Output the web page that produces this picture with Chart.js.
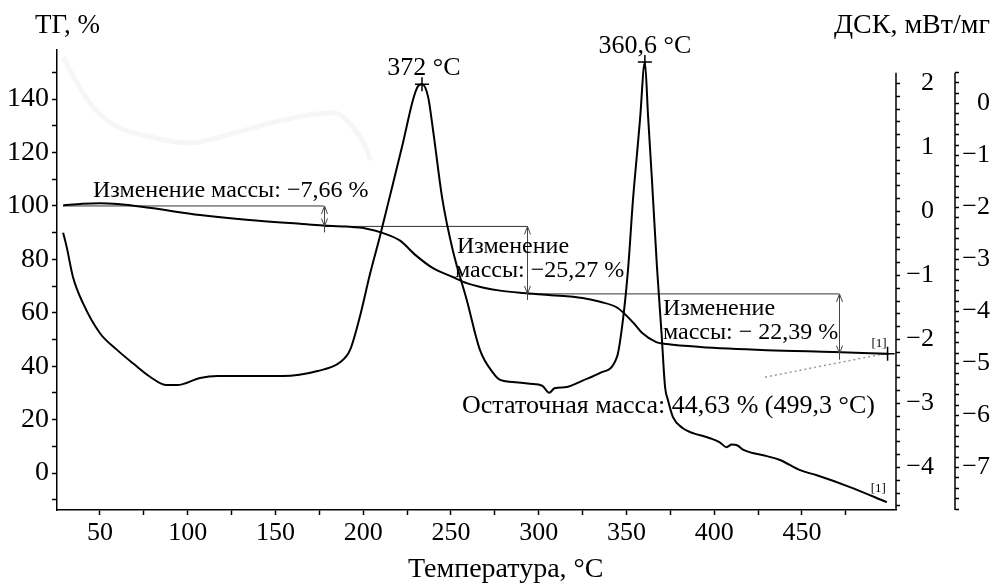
<!DOCTYPE html>
<html>
<head>
<meta charset="utf-8">
<script src="https://cdn.jsdelivr.net/npm/chart.js@4.4.0/dist/chart.umd.min.js"></script>
<style>
    html, body { margin: 0; padding: 0; background: #fff; }
</style>
</head>
<body>
<canvas id="tgChart" width="994" height="585"></canvas>
<script>
// ТГ, % (левая ось)
const tempTg = [29, 40, 50, 60, 78, 107, 135, 164, 177, 190, 202, 211, 221, 230, 240, 251, 259, 268, 278, 291, 307, 325, 335, 345, 354, 359, 367, 373, 392, 430, 468, 499.3];
const tg = [100.2, 100.8, 101, 100.7, 99.3, 96.6, 94.7, 93.3, 92.7, 92.3, 91.5, 89.9, 87, 81.5, 76.6, 73.4, 71.1, 69.5, 68.3, 67.4, 66.6, 65.5, 64.1, 61.8, 56.2, 52.4, 49, 48.3, 47.2, 46, 45.3, 44.63];

// ДСК, мВт/мг (первая правая ось)
const tempDsc = [29, 31, 34.6, 40.3, 50, 59.7, 68.8, 78.5, 88, 94, 107, 117, 135, 154, 174, 187, 192.5, 198, 204, 209.5, 214, 222.6, 228.3, 231, 233.5, 237, 240, 245, 251, 259, 266.5, 274, 278, 285, 295, 302, 306, 309, 316, 325, 335, 344.6, 348, 351, 353.7, 356, 357.7, 360.5, 362.3, 364.5, 367.4, 370, 372, 373.6, 376.5, 382, 386, 397.6, 403, 407, 410, 413, 416.4, 430, 437.5, 449, 458.5, 477, 498.4];
const dsc = [-0.34, -0.56, -1.03, -1.44, -1.91, -2.17, -2.38, -2.59, -2.72, -2.72, -2.61, -2.58, -2.58, -2.58, -2.5, -2.36, -2.17, -1.66, -0.97, -0.4, 0.1, 1.06, 1.73, 1.94, 1.98, 1.78, 1.22, 0.2, -0.61, -1.39, -2.17, -2.53, -2.64, -2.67, -2.7, -2.73, -2.84, -2.77, -2.75, -2.65, -2.53, -2.28, -1.7, -0.88, 0.17, 0.89, 1.42, 2.33, 1.49, 0.5, -0.88, -1.91, -2.75, -2.95, -3.22, -3.39, -3.45, -3.55, -3.61, -3.69, -3.65, -3.66, -3.73, -3.83, -3.89, -4.05, -4.13, -4.31, -4.55];

// бледная кривая (вторая правая ось)
const tempFaint = [29, 37, 46, 60, 78.5, 101, 126, 154, 183, 194, 202, 204];
const faint = [0.88, 0.38, -0.08, -0.46, -0.65, -0.77, -0.58, -0.33, -0.19, -0.46, -0.9, -1.1];

// ступени изменения массы
const massLevels = [100, 92.34, 67.07, 44.68];
const stepStarts = [29, 177.5, 293.5];
const stepEnds = [177.5, 293.5, 471];

// пики и конечная точка
const peakTemp = [233.5, 360.5];
const peakDsc = [1.98, 2.33];
const endTemp = [498.8];
const endTg = [44.63];
const tangentTemp = [429, 498.8];
const tangentTg = [35.9, 44.9];

// деления осей
const xTicks = [50, 75, 100, 125, 150, 175, 200, 225, 250, 275, 300, 325, 350, 375, 400, 425, 450, 475];
const tgTicks = [-10, 0, 10, 20, 30, 40, 50, 60, 70, 80, 90, 100, 110, 120, 130, 140, 150];
const dscLabels = [2, 1, 0, -1, -2, -3, -4];
const faintLabels = [0, -1, -2, -3, -4, -5, -6, -7];

const FONT = "'Liberation Serif', 'Times New Roman', serif";
const minus = v => String(v).replace('-', '\u2212');

function pts(xs, ys) {
    return xs.map((x, i) => ({ x: x, y: ys[i] }));
}

const datasets = [
    { data: pts(tempFaint, faint), yAxisID: 'y2', borderColor: '#f6f6f6', borderWidth: 5, cubicInterpolationMode: 'monotone', order: 10 },
    { data: pts(tempTg, tg), yAxisID: 'y', borderColor: '#000', borderWidth: 2, cubicInterpolationMode: 'monotone' },
    { data: pts(tempDsc, dsc), yAxisID: 'y1', borderColor: '#000', borderWidth: 2, cubicInterpolationMode: 'monotone' },
    { data: pts(tangentTemp, tangentTg), yAxisID: 'y', borderColor: '#999', borderWidth: 1.5, borderDash: [2, 3] },
    { data: pts(peakTemp, peakDsc), yAxisID: 'y1', showLine: false, pointStyle: 'cross', pointRadius: 7, pointBorderWidth: 1.5, pointBorderColor: '#000' },
    { data: pts(endTemp, endTg), yAxisID: 'y', showLine: false, pointStyle: 'cross', pointRadius: 7, pointBorderWidth: 1.5, pointBorderColor: '#000' }
];
stepStarts.forEach((s, i) => {
    datasets.push({ data: pts([s, stepEnds[i]], [massLevels[i], massLevels[i]]), yAxisID: 'y', borderColor: '#333', borderWidth: 1 });
});

// подписи в координатах данных (T, ТГ)
const notes = [
    { t: 46, v: 103.3, text: 'Изменение массы: \u22127,66 %', size: 24, align: 'left' },
    { t: 253.4, v: 82.4, text: 'Изменение', size: 24, align: 'left' },
    { t: 252.3, v: 73.4, text: 'массы: \u221225,27 %', size: 24, align: 'left' },
    { t: 370.8, v: 59.2, text: 'Изменение', size: 24, align: 'left' },
    { t: 370.8, v: 50.2, text: 'массы: \u2212 22,39 %', size: 24, align: 'left' },
    { t: 256.3, v: 22.5, text: 'Остаточная масса: 44,63 % (499,3 °C)', size: 26, align: 'left' },
    { t: 234.6, v: 149, text: '372 °C', size: 26, align: 'center' },
    { t: 360.5, v: 157.2, text: '360,6 °C', size: 26, align: 'center' },
    { t: 493.9, v: 47.2, text: '[1]', size: 13, align: 'center' },
    { t: 493.5, v: -7.1, text: '[1]', size: 13, align: 'center' }
];

const decorPlugin = {
    id: 'decor',
    afterDraw(chart) {
        const ctx = chart.ctx;
        const { x, y, y1, y2 } = chart.scales;
        const bottom = chart.chartArea.bottom;
        ctx.save();

        // правые оси: линии и деления
        ctx.strokeStyle = '#000';
        ctx.lineWidth = 1.5;
        [[y1, y1.left, 2.16, 2.0, -4.6], [y2, 955, 0.58, 0.6, -7.8]].forEach(([sc, px, topVal, first, last]) => {
            ctx.beginPath();
            ctx.moveTo(px, sc.getPixelForValue(topVal));
            ctx.lineTo(px, bottom);
            ctx.stroke();
            for (let k = 0; first - k * 0.2 >= last - 1e-6; k++) {
                const py = Math.round(sc.getPixelForValue(first - k * 0.2)) + 0.5;
                ctx.beginPath();
                ctx.moveTo(px, py);
                ctx.lineTo(px + 4, py);
                ctx.stroke();
            }
        });

        // стрелки изменения массы
        ctx.strokeStyle = '#444';
        ctx.lineWidth = 1;
        stepEnds.forEach((t, i) => {
            const px = Math.round(x.getPixelForValue(t)) + 0.5;
            const top = y.getPixelForValue(massLevels[i]);
            const bot = y.getPixelForValue(massLevels[i + 1]);
            ctx.beginPath();
            ctx.moveTo(px, top);
            ctx.lineTo(px, bot + 6);
            ctx.stroke();
            [[top, 1], [bot, -1]].forEach(([py, dir]) => {
                ctx.beginPath();
                ctx.moveTo(px - 3, py + dir * 8);
                ctx.lineTo(px, py);
                ctx.lineTo(px + 3, py + dir * 8);
                ctx.stroke();
            });
        });

        // подписи
        ctx.fillStyle = '#000';
        ctx.textBaseline = 'alphabetic';
        notes.forEach(n => {
            ctx.font = n.size + 'px ' + FONT;
            ctx.textAlign = n.align;
            ctx.fillText(n.text, x.getPixelForValue(n.t), y.getPixelForValue(n.v));
        });

        // названия осей
        ctx.textAlign = 'left';
        ctx.font = '27px ' + FONT;
        ctx.fillText('ТГ, %', 35, 33);
        ctx.font = '28px ' + FONT;
        ctx.textAlign = 'right';
        ctx.fillText('ДСК, мВт/мг', 990, 33);
        ctx.textAlign = 'left';
        ctx.fillText('Температура, °C', 408, 577);
        ctx.restore();
    }
};

const axisFont = { family: FONT, size: 26 };

new Chart(document.getElementById('tgChart').getContext('2d'), {
    type: 'line',
    data: { datasets: datasets },
    options: {
        responsive: false,
        animation: false,
        layout: { padding: { top: 50, right: 4, bottom: 0, left: 0 } },
        plugins: { legend: { display: false }, tooltip: { enabled: false } },
        elements: { point: { radius: 0 }, line: { fill: false } },
        scales: {
            x: {
                type: 'linear', min: 25.5, max: 503.6,
                afterBuildTicks: s => { s.ticks = xTicks.map(v => ({ value: v })); },
                afterFit: s => { s.height = 75; },
                ticks: { callback: v => (v % 50 === 0 ? v : ''), font: axisFont, color: '#000', padding: 3, maxRotation: 0, autoSkip: false },
                grid: { drawOnChartArea: false, tickLength: 5, tickColor: '#000', tickWidth: 1.5 },
                border: { color: '#000', width: 1.5 }
            },
            y: {
                position: 'left', min: -13.85, max: 158.4,
                afterBuildTicks: s => { s.ticks = tgTicks.map(v => ({ value: v })); },
                afterFit: s => { s.width = 57; },
                ticks: { callback: v => (v % 20 === 0 ? v : ''), font: { family: FONT, size: 28 }, color: '#000', padding: 3, autoSkip: false },
                grid: { drawOnChartArea: false, tickLength: 5, tickColor: '#000', tickWidth: 1.5 },
                border: { color: '#000', width: 1.5 }
            },
            y1: {
                position: 'right', min: -4.672, max: 2.516,
                afterBuildTicks: s => { s.ticks = dscLabels.map(v => ({ value: v })); },
                afterFit: s => { s.width = 38; },
                ticks: { callback: minus, font: axisFont, color: '#000', crossAlign: 'far', autoSkip: false },
                grid: { display: false },
                border: { display: false }
            },
            y2: {
                position: 'right', min: -7.827, max: 1.019,
                afterBuildTicks: s => { s.ticks = faintLabels.map(v => ({ value: v })); },
                afterFit: s => { s.width = 56; },
                ticks: { callback: minus, font: axisFont, color: '#000', crossAlign: 'far', autoSkip: false },
                grid: { display: false },
                border: { display: false }
            }
        }
    },
    plugins: [decorPlugin]
});
</script>
</body>
</html>
